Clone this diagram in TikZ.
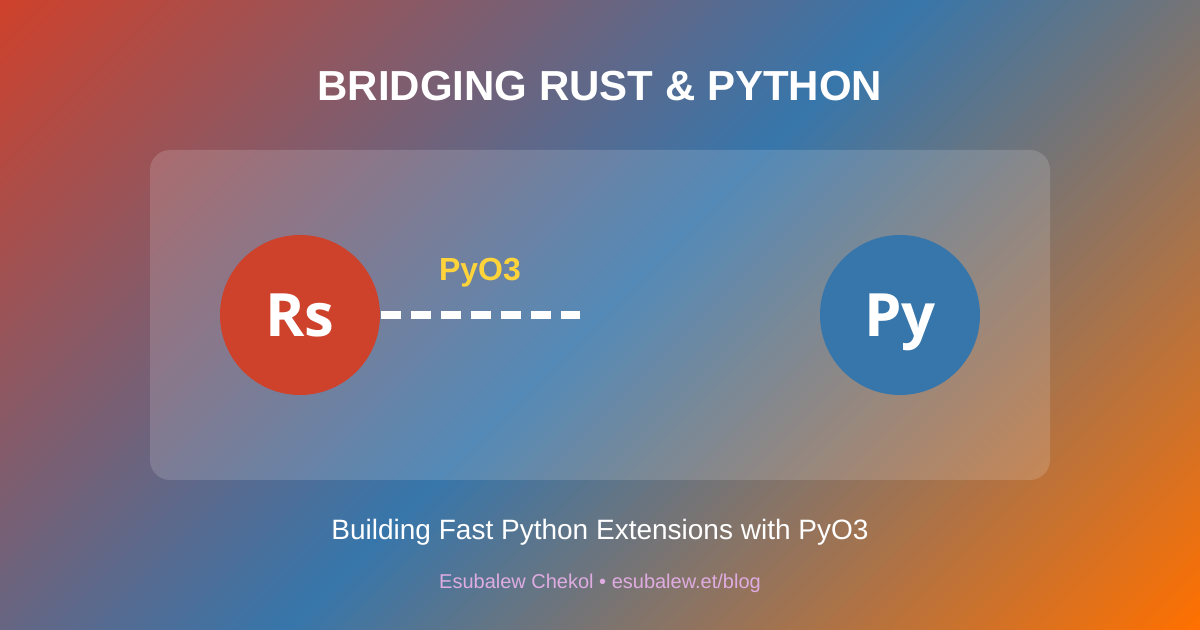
\documentclass[tikz,border=0pt]{standalone}
\usepackage{fontspec}
\setmainfont{Liberation Sans}
\newfontfamily\logofont{Open Sans}
\definecolor{rustred}{HTML}{CE412B}
\definecolor{pyblue}{HTML}{3776AB}
\definecolor{sunorange}{HTML}{FF7000}
\definecolor{pygold}{HTML}{FFD43B}
\definecolor{footplum}{HTML}{DFACE1}
\pgfdeclarehorizontalshading{bgshade}{100bp}{color(0bp)=(rustred); color(14.64bp)=(rustred); color(50bp)=(pyblue); color(85.36bp)=(sunorange); color(100bp)=(sunorange)}

\begin{document}
\begin{tikzpicture}[lang node/.style={circle, minimum size=16mm, inner sep=0pt, text=white, text depth=0pt, font=\logofont\bfseries\fontsize{17}{17}\selectfont},
    title text/.style={text=white, font=\bfseries\fontsize{11.95}{14}\selectfont, anchor=base},
    bridge line/.style={white, line width=0.8mm, dash pattern=on 2mm off 1mm}]
    \useasboundingbox (0,0) rectangle (12,6.3);
    \shade[shading=bgshade, shading angle=-45] (0,0) rectangle (12,6.3);
    \fill[white, fill opacity=0.15, rounded corners=2mm] (1.5,1.5) rectangle (10.5,4.8);

    \node[title text] (title) at (6,5.29) {BRIDGING RUST \& PYTHON};
    \node[lang node, fill=rustred] (rs) at (3,3.15) {Rs};
    \node[lang node, fill=pyblue] (py) at (9,3.15) {Py};
    \coordinate (bridgeend) at (5.8,3.15);
    \node[text=pygold, font=\bfseries\fontsize{9.1}{11}\selectfont, anchor=base] (pyo) at (4.8,3.49) {PyO3};
    \draw[bridge line] (rs.east) -- (bridgeend);

    \node[text=white, font=\fontsize{7.97}{10}\selectfont, anchor=base] (sub) at (6,0.9) {Building Fast Python Extensions with PyO3};
    \node[text=footplum, font=\fontsize{5.69}{7}\selectfont, anchor=base] (foot) at (6,0.41) {Esubalew Chekol • esubalew.et/blog};
\end{tikzpicture}
\end{document}
